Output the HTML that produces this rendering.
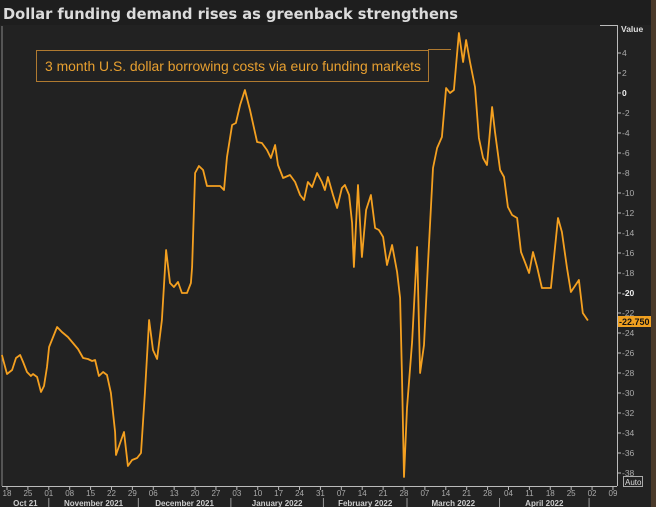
<!DOCTYPE html>
<html><head><meta charset="utf-8"><style>
body{margin:0;background:#1e1e1e;width:656px;height:507px;overflow:hidden;font-family:"Liberation Sans",sans-serif}
svg{display:block}
</style></head><body>
<svg id="c" width="656" height="507">
<rect x="0" y="0" width="656" height="507" fill="#1e1e1e"/>
<rect x="0" y="25" width="651" height="482" fill="#222222"/>
<rect x="651" y="0" width="5" height="507" fill="#4a3a2a"/>
<text x="3" y="19" fill="#dcdcdc" font-family="DejaVu Sans, sans-serif" font-weight="bold" font-size="15" textLength="455" lengthAdjust="spacingAndGlyphs">Dollar funding demand rises as greenback strengthens</text>
<line x1="2" y1="26" x2="2" y2="486" stroke="#888" stroke-width="1"/>
<line x1="2" y1="486.5" x2="617" y2="486.5" stroke="#bbb" stroke-width="1"/>
<line x1="617.5" y1="25" x2="617.5" y2="486" stroke="#bbb" stroke-width="1"/>
<line x1="600" y1="25.5" x2="617" y2="25.5" stroke="#bbb" stroke-width="1"/>
<g id="yaxis"></g>
<g id="xaxis"></g>
<text x="621" y="32" fill="#ddd" font-size="8.5" font-weight="bold">Value</text>
<g>
<line x1="428" y1="49.5" x2="451" y2="49.5" stroke="#b07a30" stroke-width="1"/>
<rect x="36.5" y="50.5" width="392" height="31" fill="none" stroke="#b07a30" stroke-width="1"/>
<text x="45" y="71" fill="#e8a030" font-size="13.5" textLength="376" lengthAdjust="spacingAndGlyphs">3 month U.S. dollar borrowing costs via euro funding markets</text>
</g>
<g id="series"></g>
<g>
<rect x="618" y="316" width="33" height="11" fill="#f0a020"/>
<text x="619" y="325" fill="#111" font-size="9" font-weight="bold">-22.750</text>
</g>
<g>
<rect x="623.5" y="476.5" width="19" height="10" fill="none" stroke="#aaa" stroke-width="1"/>
<text x="625" y="485" fill="#ddd" font-size="8">Auto</text>
</g>
</svg>
<script>
// day offsets from 18 Oct 2021, values
const days=[-1.7,0,1.7,3.0,4.4,5.4,6.7,8.0,8.7,10.1,11.4,12.4,13.4,14.1,16.8,18.4,20.4,21.8,23.8,25.5,27.1,28.5,29.5,30.8,32.2,33.5,34.8,36.2,36.5,37.9,39.2,40.5,41.9,43.6,44.9,46.2,47.6,48.9,50.3,51.9,53.3,54.6,55.9,57.3,58.6,60.3,61.6,62.0,63.0,64.3,65.7,67.0,68.7,71.4,72.7,73.7,75.4,76.7,78.1,79.7,81.4,83.8,85.4,87.1,88.4,89.8,90.8,92.5,94.8,96.5,98.2,99.5,100.8,102.2,103.9,105.5,106.5,107.5,109.2,110.6,112.2,113.2,114.6,115.6,116.2,117.6,118.9,120.3,121.9,123.3,124.6,126.0,127.3,129.0,130.7,131.7,132.3,133.0,134.0,135.7,137.4,138.4,139.7,141.0,142.7,144.1,145.7,147.1,148.4,149.7,151.4,152.8,153.8,155.1,156.8,158.1,159.5,160.8,162.5,163.5,165.2,166.5,167.8,169.2,170.9,172.2,173.5,174.9,176.2,177.6,179.2,182.2,184.6,185.9,187.6,188.9,191.6,192.9,194.6];
const values=[-26.2,-28.1,-27.7,-26.5,-26.2,-26.9,-27.9,-28.3,-28.1,-28.4,-29.9,-29.3,-27.4,-25.4,-23.4,-23.9,-24.4,-24.9,-25.6,-26.5,-26.6,-26.8,-26.7,-28.3,-27.9,-28.2,-30.0,-33.9,-36.2,-35.0,-33.9,-37.3,-36.7,-36.5,-36.0,-30.0,-22.7,-25.7,-26.6,-22.7,-15.7,-19.0,-19.4,-18.9,-20.0,-20.0,-19.0,-17.4,-8.0,-7.3,-7.7,-9.3,-9.3,-9.3,-9.7,-6.4,-3.2,-3.0,-1.2,0.3,-1.7,-4.9,-5.0,-5.7,-6.5,-5.2,-7.2,-8.5,-8.2,-8.9,-10.2,-10.7,-8.9,-9.4,-8.0,-8.9,-9.7,-8.4,-10.2,-11.5,-9.5,-9.2,-10.2,-13.0,-17.4,-9.2,-16.4,-11.7,-10.2,-13.5,-13.7,-14.4,-17.2,-15.2,-17.9,-20.5,-27.9,-38.4,-31.5,-24.9,-15.4,-28.0,-25.2,-17.2,-7.5,-5.5,-4.4,0.5,0.0,0.3,6.0,3.1,5.3,3.1,0.6,-4.5,-6.5,-7.2,-1.4,-3.9,-7.7,-8.4,-11.4,-12.2,-12.5,-15.9,-16.9,-18.0,-15.9,-17.4,-19.5,-19.5,-12.5,-13.9,-17.5,-19.9,-18.7,-22.0,-22.75];
const yTicks=[4,2,0,-2,-4,-6,-8,-10,-12,-14,-16,-18,-20,-22,-24,-26,-28,-30,-32,-34,-36,-38];
const xTickLabels=["18","25","01","08","15","22","29","06","13","20","27","03","10","17","24","31","07","14","21","28","07","14","21","28","04","11","18","25","02","09"];
const monthLabels=["Oct 21","November 2021","December 2021","January 2022","February 2022","March 2022","April 2022"];
const monthStartDays=[-17,14,44,75,106,134,165,195];

const NS="http://www.w3.org/2000/svg";
const xS=d=>7+2.985*d;
const yS=v=>93-10*v;
function mk(tag,attrs,parent){const e=document.createElementNS(NS,tag);for(const k in attrs)e.setAttribute(k,attrs[k]);parent.appendChild(e);return e;}
const ya=document.getElementById('yaxis');
yTicks.forEach(v=>{
  const y=yS(v);
  const t=mk('line',{x1:617,y1:y,x2:621,y2:y,stroke:'#bbb','stroke-width':1},ya);
  
  
  const bold=(v===0||v===-20);
  const l=mk('text',{x:622,y:y+3,fill:bold?'#eee':'#aaa','font-size':8.5,'font-weight':bold?'bold':'normal'},ya);
  l.textContent=''+v;
  
  
});
const xa=document.getElementById('xaxis');
xTickLabels.forEach((s,i)=>{
  const x=xS(i*7);
  const t=mk('line',{x1:x,y1:487,x2:x,y2:490,stroke:'#bbb','stroke-width':1},xa);
  
  
  const l=mk('text',{x:x,y:496,fill:'#aaa','font-size':8,'text-anchor':'middle'},xa);
  l.textContent=s;
  
  
});
monthLabels.forEach((m,i)=>{
  const a=Math.max(xS(monthStartDays[i]),2),b=xS(monthStartDays[i+1]);
  const l=mk('text',{x:(a+b)/2,y:506,fill:'#ccc','font-size':8,'font-weight':'bold','text-anchor':'middle'},xa);
  l.textContent=m;
  
  
  const s=mk('line',{x1:b,y1:498,x2:b,y2:507,stroke:'#999','stroke-width':1},xa);
  
  
});
const pts=days.map((d,i)=>xS(d).toFixed(1)+','+yS(values[i]).toFixed(1)).join(' ');
const pl=mk('polyline',{points:pts,fill:'none',stroke:'#f4a020','stroke-width':1.8,'stroke-linejoin':'round'},document.getElementById('series'));


</script>
</body></html>
